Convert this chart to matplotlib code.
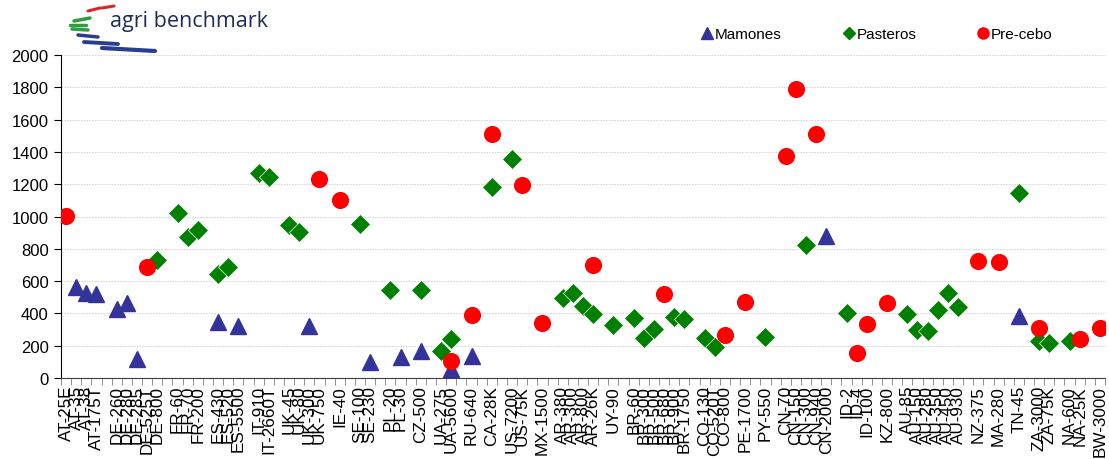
import numpy as np
import matplotlib
matplotlib.use('Agg')
import matplotlib.pyplot as plt
from matplotlib.lines import Line2D

plt.rcParams['font.family'] = ['Liberation Sans', 'DejaVu Sans']

# categories along x ('' = empty gap between countries)
cats = ['AT-25E', 'AT-35', 'AT-38', 'AT-175T', '',
        'DE-260', 'DE-280', 'DE-285', 'DE-525T', 'DE-800', '',
        'FR-60', 'FR-70', 'FR-200', '',
        'ES-430', 'ES-520', 'ES-5500', '',
        'IT-910', 'IT-2660T', '',
        'UK-45', 'UK-80', 'UK-300', 'UK-750', '',
        'IE-40', '',
        'SE-100', 'SE-230', '',
        'PL-20', 'PL-30', '',
        'CZ-500', '',
        'UA-275', 'UA-5600', '',
        'RU-640', '',
        'CA-28K', '',
        'US-7200', 'US-75K', '',
        'MX-1500', '',
        'AR-380', 'AR-300', 'AR-800', 'AR-26K', '',
        'UY-90', '',
        'BR-60', 'BR-300', 'BR-500', 'BR-680', 'BR-900', 'BR-1750', '',
        'CO-130', 'CO-520T', 'CO-800', '',
        'PE-1700', '',
        'PY-550', '',
        'CN-70', 'CN-150', 'CN-300', 'CN-940', 'CN-2000', '',
        'ID-2', 'ID-4', 'ID-100', '',
        'KZ-800', '',
        'AU-85', 'AU-150', 'AU-280', 'AU-350', 'AU-450', 'AU-930', '',
        'NZ-375', '',
        'MA-280', '',
        'TN-45', '',
        'ZA-3000', 'ZA-75K', '',
        'NA-600', 'NA-25K', '',
        'BW-3000']

mamones = {'AT-35': 565, 'AT-38': 528, 'AT-175T': 518, 'DE-260': 425, 'DE-280': 465,
           'DE-285': 120, 'ES-430': 345, 'ES-5500': 320, 'UK-300': 320, 'SE-230': 100,
           'PL-30': 132, 'CZ-500': 168, 'UA-5600': 55, 'RU-640': 135, 'CN-2000': 880,
           'TN-45': 384}

pasteros = {'DE-800': 733, 'FR-60': 1022, 'FR-70': 873, 'FR-200': 918, 'ES-430': 644,
            'ES-520': 689, 'IT-910': 1267, 'IT-2660T': 1242, 'UK-45': 947, 'UK-80': 902,
            'SE-100': 953, 'PL-20': 547, 'CZ-500': 547, 'UA-275': 169, 'UA-5600': 241,
            'CA-28K': 1185, 'US-7200': 1356, 'AR-380': 493, 'AR-300': 524, 'AR-800': 448,
            'AR-26K': 396, 'UY-90': 328, 'BR-60': 369, 'BR-300': 245, 'BR-500': 303,
            'BR-900': 380, 'BR-1750': 368, 'CO-130': 248, 'CO-520T': 192, 'PY-550': 254,
            'CN-300': 825, 'ID-2': 402, 'AU-85': 396, 'AU-150': 297, 'AU-280': 289,
            'AU-350': 423, 'AU-450': 526, 'AU-930': 438, 'TN-45': 1146, 'ZA-3000': 231,
            'ZA-75K': 217, 'NA-600': 231}

precebo = {'AT-25E': 1005, 'DE-525T': 688, 'UK-750': 1230, 'IE-40': 1104, 'UA-5600': 107,
           'RU-640': 390, 'CA-28K': 1513, 'US-75K': 1192, 'MX-1500': 340, 'AR-26K': 702,
           'BR-680': 518, 'CO-800': 266, 'PE-1700': 470, 'CN-70': 1372, 'CN-150': 1792,
           'CN-940': 1508, 'ID-4': 155, 'ID-100': 334, 'KZ-800': 464, 'NZ-375': 724,
           'MA-280': 718, 'ZA-3000': 310, 'NA-25K': 241, 'BW-3000': 307}

W, H = 1109, 460
fig = plt.figure(figsize=(W / 100, H / 100), dpi=100)
ax = fig.add_axes([61 / W, 1 - 379 / H, (1105 - 61) / W, (379 - 56) / H])


def xy(series):
    xs = [cats.index(k) for k in series]
    return xs, list(series.values())


x, y = xy(mamones)
ax.plot(x, y, ls='none', marker='^', ms=11.3, color='#333399', mec='#333399', zorder=3)
x, y = xy(pasteros)
ax.plot(x, y, ls='none', marker='D', ms=9.8, color='#008000', mec='white', mew=0.5, zorder=4)
x, y = xy(precebo)
ax.plot(x, y, ls='none', marker='o', ms=11.3, color='#FF0000', mec='#FF0000', zorder=5)

ax.set_xlim(-0.5, len(cats) - 0.5)
ax.set_ylim(0, 2000)
ax.set_yticks(np.arange(0, 2001, 200))
ax.yaxis.grid(True, color='#d9d9d9', ls=(0, (1.5, 1)), lw=0.8)
ax.set_axisbelow(True)

ax.set_xticks(np.arange(len(cats)))
ax.set_xticklabels(cats, rotation=90, fontsize=12.3)
ax.set_xticks(np.arange(len(cats) + 1) - 0.5, minor=True)
ax.tick_params(axis='x', which='major', length=0, pad=5)
ax.tick_params(axis='x', which='minor', length=5, color='#808080')
ax.tick_params(axis='y', labelsize=12, length=5, pad=4)

for s in ['top', 'right']:
    ax.spines[s].set_visible(False)
ax.spines['bottom'].set_color('#404040')

# legend
handles = [Line2D([], [], ls='none', marker='^', ms=8, color='#333399'),
           Line2D([], [], ls='none', marker='D', ms=6, color='#008000'),
           Line2D([], [], ls='none', marker='o', ms=8, color='#FF0000')]
fig.legend(handles, ['Mamones', 'Pasteros', 'Pre-cebo'], ncol=3, frameon=False,
           loc='center', bbox_to_anchor=(876 / W, 1 - 35 / H), fontsize=11,
           handletextpad=0.0, columnspacing=3.9, handlelength=1.0)

# logo
fig.text(110 / W, 1 - 22 / H, 'agri benchmark', fontsize=15.5, color='#1f2d5a',
         family=['Open Sans', 'DejaVu Sans'], va='center', ha='left')
swoosh = [((88, 12), (100, 9), '#d62828', 2.2), ((102, 9), (114, 7), '#d62828', 2.2),
          ((74, 22), (90, 19), '#2e9e3e', 2.5), ((70, 26), (86, 26), '#2e9e3e', 2.5),
          ((72, 30), (88, 31), '#2e9e3e', 2.5),
          ((78, 36), (98, 38), '#2a3d8f', 2.5), ((84, 43), (118, 45), '#2a3d8f', 2.8),
          ((102, 49), (155, 52), '#2a3d8f', 3.0)]
for (x0, y0), (x1, y1), c, lw in swoosh:
    fig.add_artist(Line2D([x0 / W, x1 / W], [1 - y0 / H, 1 - y1 / H], color=c, lw=lw,
                          solid_capstyle='round', transform=fig.transFigure))

fig.savefig('out.png', dpi=100)
